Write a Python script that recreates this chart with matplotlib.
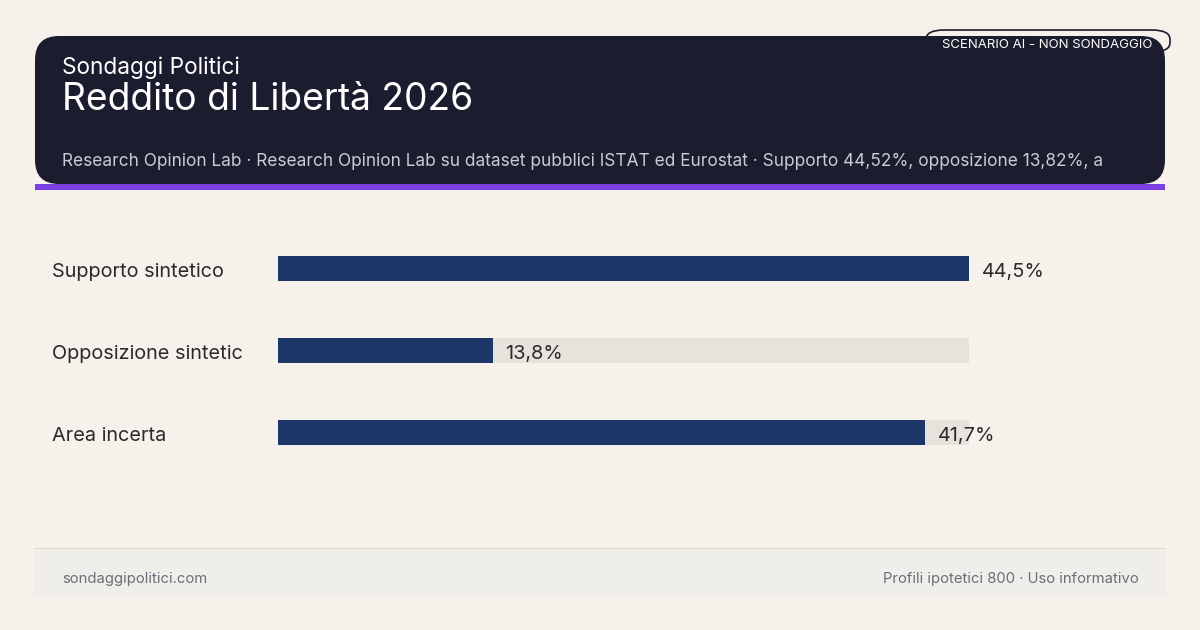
import matplotlib
matplotlib.use("Agg")
import matplotlib.pyplot as plt
from matplotlib.patches import FancyBboxPatch, Rectangle

categories = ["Supporto sintetico", "Opposizione sintetic", "Area incerta"]
values = [44.52, 13.82, 41.7]
value_labels = ["44,5%", "13,8%", "41,7%"]

plt.rcParams['font.family'] = ['Inter', 'DejaVu Sans']
W, H = 1200, 630
fig = plt.figure(figsize=(12, 6.3), dpi=100)
fig.patch.set_facecolor("#f6f1eb")

def px(x, y):
    return x / W, 1 - y / H

# badge
b = FancyBboxPatch(px(926, 52), (1170 - 926) / W, 22 / H, boxstyle="round,pad=0,rounding_size=0.015",
                   transform=fig.transFigure, facecolor="#f6f1eb", edgecolor="#1b1c2e", lw=1.2, zorder=1)
fig.patches.append(b)
# header
hdr = FancyBboxPatch(px(35, 184), 1130 / W, 148 / H, boxstyle="round,pad=0,rounding_size=0.02",
                     transform=fig.transFigure, facecolor="#1b1c2e", edgecolor="none", zorder=2,
                     mutation_aspect=W / H)
fig.patches.append(hdr)
fig.patches.append(Rectangle(px(35, 190), 1130 / W, 6 / H, transform=fig.transFigure,
                             facecolor="#7b3fe4", edgecolor="none", zorder=3))
fig.text(*px(1152, 45), "SCENARIO AI - NON SONDAGGIO", color="white", fontsize=9.5, ha="right", va="center", zorder=5)
fig.text(*px(62, 68), "Sondaggi Politici", color="white", fontsize=16.3, va="center", zorder=5)
fig.text(*px(62, 100), "Reddito di Libertà 2026", color="white", fontsize=26.8, va="center", zorder=5)
fig.text(*px(62, 161), "Research Opinion Lab · Research Opinion Lab su dataset pubblici ISTAT ed Eurostat · Supporto 44,52%, opposizione 13,82%, a",
         color="#c9cbd6", fontsize=12.45, va="center", zorder=5)

# footer
fig.patches.append(Rectangle(px(34, 597), 1132 / W, 49 / H, transform=fig.transFigure,
                             facecolor="#efeeea", edgecolor="none"))
fig.patches.append(Rectangle(px(34, 549), 1132 / W, 1.5 / H, transform=fig.transFigure,
                             facecolor="#ddd5c8", edgecolor="none"))
fig.text(*px(62, 579), "sondaggipolitici.com", color="#6b6e78", fontsize=10.7, va="center")
fig.text(*px(1139, 579), "Profili ipotetici 800 · Uso informativo", color="#6b6e78", fontsize=10.7, va="center", ha="right")

# chart axes: x 278..969, rows at 268, 350, 432 (spacing 82)
top, bot = 268 - 41, 432 + 41
ax = fig.add_axes([278 / W, 1 - bot / H, (969 - 278) / W, (bot - top) / H])
ax.set_facecolor("none")
vmax = max(values)
ys = list(range(len(categories)))
ax.barh(ys, [vmax] * len(ys), height=25 / 82, color="#e8e2dc", zorder=1)
ax.barh(ys, values, height=25 / 82, color="#1d3768", zorder=2)
ax.set_xlim(0, vmax)
ax.set_ylim(len(ys) - 0.5, -0.5)
off = 4 / 82
for y, v, lab, cat in zip(ys, values, value_labels, categories):
    ax.text(v + vmax * 13 / 691, y + off, lab, va="center", ha="left", fontsize=14.3, color="#2a2a2a", zorder=3)
    ax.text(-226 / 691 * vmax, y + off, cat, va="center", ha="left", fontsize=14.3, color="#2a2a2a")
ax.axis("off")

fig.savefig("out.png", dpi=100, facecolor=fig.get_facecolor())
